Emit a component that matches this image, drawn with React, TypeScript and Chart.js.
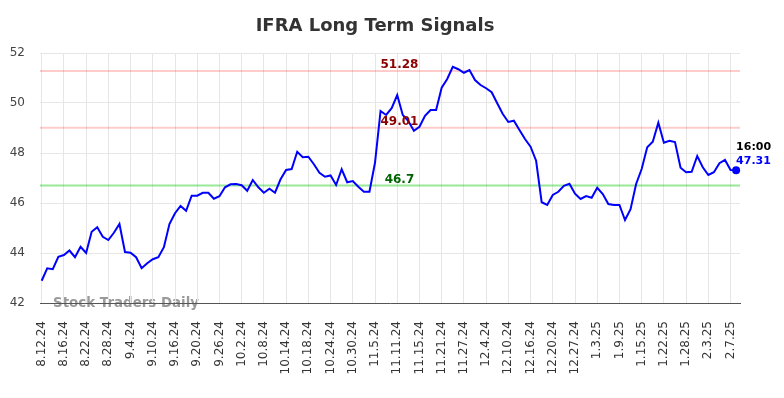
import React, { useEffect, useRef } from 'react';
import { Chart, registerables } from 'chart.js';

Chart.register(...registerables);

const title = 'IFRA Long Term Signals';
const watermark = 'Stock Traders Daily';

const dates = [
  '8.12.24', '8.13.24', '8.14.24', '8.15.24', '8.16.24', '8.19.24', '8.20.24', '8.21.24', '8.22.24', '8.23.24',
  '8.26.24', '8.27.24', '8.28.24', '8.29.24', '8.30.24', '9.3.24', '9.4.24', '9.5.24', '9.6.24', '9.9.24',
  '9.10.24', '9.11.24', '9.12.24', '9.13.24', '9.16.24', '9.17.24', '9.18.24', '9.19.24', '9.20.24', '9.23.24',
  '9.24.24', '9.25.24', '9.26.24', '9.27.24', '9.30.24', '10.1.24', '10.2.24', '10.3.24', '10.4.24', '10.7.24',
  '10.8.24', '10.9.24', '10.10.24', '10.11.24', '10.14.24', '10.15.24', '10.16.24', '10.17.24', '10.18.24', '10.21.24',
  '10.22.24', '10.23.24', '10.24.24', '10.25.24', '10.28.24', '10.29.24', '10.30.24', '10.31.24', '11.1.24', '11.4.24',
  '11.5.24', '11.6.24', '11.7.24', '11.8.24', '11.11.24', '11.12.24', '11.13.24', '11.14.24', '11.15.24', '11.18.24',
  '11.19.24', '11.20.24', '11.21.24', '11.22.24', '11.25.24', '11.26.24', '11.27.24', '11.29.24', '12.2.24', '12.3.24',
  '12.4.24', '12.5.24', '12.6.24', '12.9.24', '12.10.24', '12.11.24', '12.12.24', '12.13.24', '12.16.24', '12.17.24',
  '12.18.24', '12.19.24', '12.20.24', '12.23.24', '12.24.24', '12.26.24', '12.27.24', '12.30.24', '12.31.24', '1.2.25',
  '1.3.25', '1.6.25', '1.7.25', '1.8.25', '1.9.25', '1.10.25', '1.13.25', '1.14.25', '1.15.25', '1.16.25',
  '1.17.25', '1.21.25', '1.22.25', '1.23.25', '1.24.25', '1.27.25', '1.28.25', '1.29.25', '1.30.25', '1.31.25',
  '2.3.25', '2.4.25', '2.5.25', '2.6.25', '2.7.25', '2.10.25',
];

const prices = [
  42.89, 43.39, 43.35, 43.85, 43.92, 44.1, 43.83, 44.25, 44.0, 44.85,
  45.03, 44.65, 44.52, 44.81, 45.16, 44.04, 44.01, 43.83, 43.39, 43.59,
  43.75, 43.83, 44.23, 45.16, 45.59, 45.88, 45.69, 46.29, 46.29, 46.41,
  46.41, 46.17, 46.27, 46.63, 46.75, 46.76, 46.71, 46.49, 46.92, 46.63,
  46.41, 46.57, 46.41, 46.95, 47.32, 47.36, 48.05, 47.83, 47.85, 47.55,
  47.21, 47.05, 47.1, 46.72, 47.35, 46.83, 46.88, 46.65, 46.45, 46.45,
  47.61, 49.68, 49.52, 49.79, 50.32, 49.52, 49.28, 48.89, 49.05, 49.49,
  49.72, 49.72, 50.61, 50.96, 51.45, 51.35, 51.21, 51.32, 50.92, 50.72,
  50.59, 50.43, 49.99, 49.56, 49.24, 49.29, 48.92, 48.56, 48.25, 47.69,
  46.03, 45.92, 46.32, 46.45, 46.69, 46.77, 46.37, 46.16, 46.28, 46.21,
  46.61, 46.36, 45.96, 45.92, 45.92, 45.32, 45.75, 46.76, 47.36, 48.23,
  48.45, 49.21, 48.41, 48.49, 48.44, 47.41, 47.23, 47.25, 47.88, 47.43,
  47.12, 47.23, 47.59, 47.72, 47.32, 47.31,
];

const resistanceLevels = [51.28, 49.01];
const supportLevels = [46.7];
const lastTimeLabel = '16:00';
const yTickValues = [42, 44, 46, 48, 50, 52];
const xTickEvery = 4;

const FONT = "'DejaVu Sans', sans-serif";

export default function App() {
  const canvasRef = useRef<HTMLCanvasElement | null>(null);

  useEffect(() => {
    document.body.style.margin = '0';
    const canvas = canvasRef.current;
    if (!canvas) return;

    const points = prices.map((v, i) => ({ x: i, y: v }));
    const lastIdx = prices.length - 1;

    const overlay = {
      id: 'overlay',
      beforeDraw(chart: any) {
        const ctx = chart.ctx;
        ctx.save();
        ctx.fillStyle = '#ffffff';
        ctx.fillRect(0, 0, chart.width, chart.height);
        ctx.fillStyle = '#333333';
        ctx.font = `bold 18px ${FONT}`;
        ctx.textAlign = 'center';
        ctx.textBaseline = 'alphabetic';
        ctx.fillText(title, 375, 31);
        ctx.fillStyle = '#9a9a9a';
        ctx.font = `bold 13.4px ${FONT}`;
        ctx.textAlign = 'left';
        ctx.fillText(watermark, 53, 307);
        ctx.restore();
      },
      beforeDatasetsDraw(chart: any) {
        const ctx = chart.ctx;
        const { left, right } = chart.chartArea;
        const ys = chart.scales.y;
        ctx.save();
        ctx.lineWidth = 2;
        resistanceLevels.forEach((lv) => {
          const py = ys.getPixelForValue(lv);
          ctx.strokeStyle = 'rgba(255,0,0,0.2)';
          ctx.beginPath();
          ctx.moveTo(left, py);
          ctx.lineTo(right, py);
          ctx.stroke();
        });
        supportLevels.forEach((lv) => {
          const py = ys.getPixelForValue(lv);
          ctx.strokeStyle = 'rgba(0,200,0,0.4)';
          ctx.beginPath();
          ctx.moveTo(left, py);
          ctx.lineTo(right, py);
          ctx.stroke();
        });
        ctx.restore();
      },
      afterDatasetsDraw(chart: any) {
        const ctx = chart.ctx;
        const xs = chart.scales.x;
        const ys = chart.scales.y;
        ctx.save();
        ctx.font = `bold 12px ${FONT}`;
        ctx.textAlign = 'center';
        ctx.textBaseline = 'alphabetic';
        const lx = xs.getPixelForValue(64.4);
        resistanceLevels.forEach((lv) => {
          ctx.fillStyle = '#8b0000';
          ctx.fillText(String(lv), lx, ys.getPixelForValue(lv) - 3);
        });
        supportLevels.forEach((lv) => {
          ctx.fillStyle = '#006400';
          ctx.fillText(String(lv), lx, ys.getPixelForValue(lv) - 3);
        });
        const px = xs.getPixelForValue(lastIdx);
        const py = ys.getPixelForValue(prices[lastIdx]);
        ctx.fillStyle = '#0000ff';
        ctx.beginPath();
        ctx.arc(px, py, 4, 0, Math.PI * 2);
        ctx.fill();
        ctx.font = `bold 11px ${FONT}`;
        ctx.textAlign = 'left';
        ctx.fillStyle = '#000000';
        ctx.fillText(lastTimeLabel, px, py - 20);
        ctx.fillStyle = '#0000ff';
        ctx.fillText(prices[lastIdx].toFixed(2), px, py - 6);
        ctx.restore();
      },
    };

    const chart = new Chart(canvas, {
      type: 'line',
      data: {
        datasets: [
          {
            data: points,
            borderColor: '#0000ff',
            borderWidth: 2,
            pointRadius: 0,
            tension: 0,
            fill: false,
          },
        ],
      },
      options: {
        animation: false,
        responsive: false,
        devicePixelRatio: 1,
        layout: { padding: { top: 53, right: 44, left: 0, bottom: 0 } },
        plugins: { legend: { display: false }, tooltip: { enabled: false }, title: { display: false } },
        scales: {
          x: {
            type: 'linear',
            min: -0.3,
            max: lastIdx + 0.7,
            afterFit: (s: any) => { s.height = 95; },
            afterBuildTicks: (s: any) => {
              const t: any[] = [];
              for (let i = 0; i < dates.length; i += xTickEvery) t.push({ value: i });
              s.ticks = t;
            },
            ticks: {
              autoSkip: false,
              maxRotation: 90,
              minRotation: 90,
              padding: 18,
              color: '#333333',
              font: { family: FONT, size: 12 },
              callback: (v: any) => dates[v as number] ?? '',
            },
            grid: { color: '#e6e6e6', lineWidth: 1, drawTicks: false },
            border: { display: true, color: '#555555', width: 1 },
          },
          y: {
            min: 42,
            max: 52,
            afterFit: (s: any) => { s.width = 40; },
            afterBuildTicks: (s: any) => { s.ticks = yTickValues.map((v) => ({ value: v })); },
            ticks: {
              padding: 15,
              color: '#444444',
              font: { family: FONT, size: 12 },
            },
            grid: { color: '#e6e6e6', lineWidth: 1, drawTicks: false },
            border: { display: false },
          },
        },
      },
      plugins: [overlay],
    } as any);

    return () => chart.destroy();
  }, []);

  return (
    <div style={{ width: 784, height: 398 }}>
      <canvas ref={canvasRef} width={784} height={398} style={{ display: 'block' }} />
    </div>
  );
}
